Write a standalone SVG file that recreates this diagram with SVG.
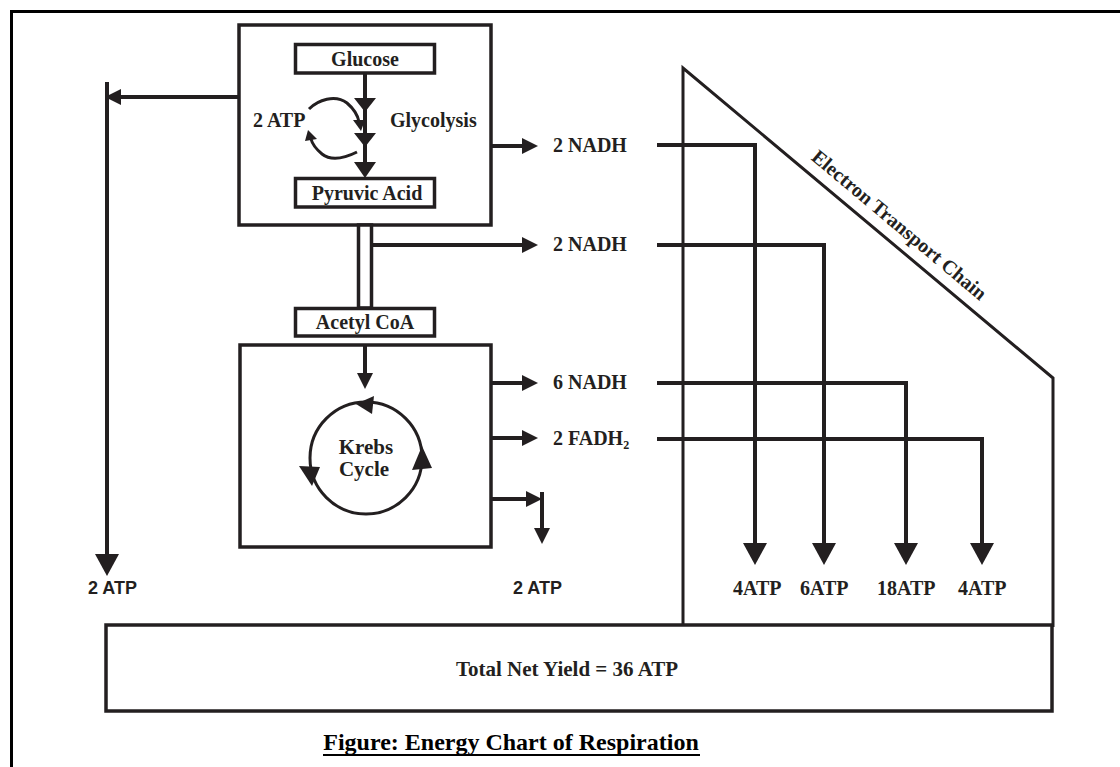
<svg xmlns="http://www.w3.org/2000/svg" width="1120" height="767" viewBox="0 0 1120 767">
<style>
.bx{fill:#fff;stroke:#231f20;stroke-width:3.5}
.ln{fill:none;stroke:#231f20;stroke-width:4;stroke-linejoin:miter}
.thin{fill:none;stroke:#231f20;stroke-width:3}
.ah{fill:#231f20;stroke:none}
.t{font-family:"Liberation Serif","Times New Roman",serif;font-weight:bold;font-size:20px;fill:#231f20}
.s{font-family:"Liberation Sans",Arial,sans-serif;font-weight:bold;font-size:18px;fill:#231f20}
.c{text-anchor:middle}
.big{font-size:21px}
.cap{font-size:24px;fill:#000}
</style>
<defs>
<marker id="arrS" markerUnits="userSpaceOnUse" markerWidth="16" markerHeight="16" refX="2" refY="8" orient="auto"><path d="M0,0 L16,8 L0,16 z" fill="#231f20"/></marker>
<marker id="arrL" markerUnits="userSpaceOnUse" markerWidth="22" markerHeight="24" refX="2" refY="12" orient="auto"><path d="M0,0 L22,12 L0,24 z" fill="#231f20"/></marker>
</defs>
<rect width="1120" height="767" fill="#fff"/>
<path d="M11.5,767 V11.5 H1120" fill="none" stroke="#000" stroke-width="3"/>

<g id="glycolysis">
<rect class="bx" x="239" y="25" width="252" height="200"/>
</g>
<g id="glucose">
<rect class="bx" x="295.5" y="44.5" width="139" height="28.5"/>
<text class="t c" x="365" y="66">Glucose</text>
</g>
<g id="pyruvic">
<rect class="bx" x="295.5" y="178.5" width="139" height="28.5"/>
<text class="t c" x="367" y="200">Pyruvic Acid</text>
</g>
<g id="glycolysis-labels">
<text class="t" x="253" y="127">2 ATP</text>
<text class="t" x="390" y="127">Glycolysis</text>
</g>
<g id="link">
<rect class="bx" x="358.5" y="225" width="13" height="83"/>
</g>
<g id="acetyl">
<rect class="bx" x="295.5" y="308.5" width="139" height="27.5"/>
<text class="t c" x="365" y="329">Acetyl CoA</text>
</g>
<g id="krebs">
<rect class="bx" x="240" y="345" width="251" height="202"/>
<circle class="thin" cx="366" cy="458" r="56"/>
<polygon class="ah" points="356,404 374,396 372,414"/>
<polygon class="ah" points="299,466 320,467 312,486"/>
<polygon class="ah" points="422,446 412,470 432,468"/>
<text class="t c big" x="366" y="454">Krebs</text>
<text class="t c big" x="364" y="476">Cycle</text>
</g>
<g id="etc">
<path class="thin" d="M683,627 V68 L1053,378 V627"/>
<text class="t c" transform="translate(895,230) rotate(40)">Electron Transport Chain</text>
</g>
<g id="total">
<rect class="bx" x="106" y="625" width="946" height="86"/>
<text class="t c big" x="567" y="676">Total Net Yield = 36 ATP</text>
</g>
<g id="labels">
<text class="t" x="553" y="152">2 NADH</text>
<text class="t" x="553" y="251">2 NADH</text>
<text class="t" x="553" y="389">6 NADH</text>
<text class="t" x="553" y="445">2 FADH<tspan style="font-size:12px" dy="4">2</tspan></text>
<text class="s" x="88" y="594">2 ATP</text>
<text class="s" x="513" y="594">2 ATP</text>
<text class="t" x="733" y="595">4ATP</text>
<text class="t" x="800" y="595">6ATP</text>
<text class="t" x="877" y="595">18ATP</text>
<text class="t" x="958" y="595">4ATP</text>
</g>
<g id="connectors">
<path class="ln" d="M365,73 V164"/>
<polygon class="ah" points="354,98 376,98 365,112"/>
<polygon class="ah" points="354,133 376,133 365,147"/>
<polygon class="ah" points="354,162 376,162 365,178"/>
<path class="thin" d="M309,109 C318,100 335,94 347,103 C354,109 358,116 359,122"/>
<polygon class="ah" points="353,120 365,120 361,131"/>
<path class="thin" d="M357,152 C345,158 332,162 322,154 C316,149 312,143 311,139"/>
<polygon class="ah" points="305,141 317,139 308,130"/>
<path class="ln" d="M239,97 H119" marker-end="url(#arrS)"/>
<path class="ln" d="M107,82 V556" marker-end="url(#arrL)"/>
<path class="ln" d="M491,146 H524" marker-end="url(#arrS)"/>
<path class="ln" d="M373,245 H524" marker-end="url(#arrS)"/>
<path class="ln" d="M365,345 V375" marker-end="url(#arrS)"/>
<path class="ln" d="M491,383 H524" marker-end="url(#arrS)"/>
<path class="ln" d="M491,438 H524" marker-end="url(#arrS)"/>
<path class="ln" d="M491,499 H528" marker-end="url(#arrS)"/>
<path class="ln" d="M542,492 V530" marker-end="url(#arrS)"/>
<path class="ln" d="M657,145 H755 V545" marker-end="url(#arrL)"/>
<path class="ln" d="M657,245 H824 V545" marker-end="url(#arrL)"/>
<path class="ln" d="M657,383 H906 V545" marker-end="url(#arrL)"/>
<path class="ln" d="M657,439 H982 V545" marker-end="url(#arrL)"/>
</g>
<g id="caption">
<text class="t c cap" x="511" y="750">Figure: Energy Chart of Respiration</text>
<line x1="323" y1="755" x2="700" y2="755" stroke="#000" stroke-width="2"/>
</g>
</svg>
